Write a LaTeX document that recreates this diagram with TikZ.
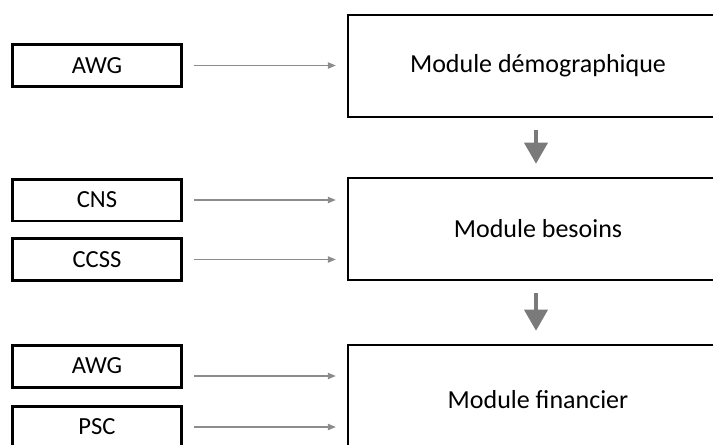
\documentclass[tikz,border=0pt]{standalone}
\usepackage{fontspec}
\setmainfont{Carlito}
\usetikzlibrary{arrows.meta}
\tikzset{
  source/.style={draw, line width=1.7pt, minimum width=3.4cm, minimum height=0.84cm, inner sep=0pt, font=\fontsize{14}{16}\selectfont},
  module/.style={draw, line width=1.4pt, minimum width=7.6cm, minimum height=2.04cm, inner sep=0pt, font=\fontsize{14.8}{17}\selectfont},
  feed/.style={draw=black!45, line width=0.6pt, -{Triangle[length=4.5pt, width=3.6pt]}, shorten <=0.22cm, shorten >=0.22cm},
  flow/.style={draw=black!52, line width=2.4pt, -{Triangle[length=12pt, width=13pt]}, shorten <=0.24cm, shorten >=0.26cm}
}
\begin{document}
\begin{tikzpicture}[x=0.02cm, y=-0.02cm]
\clip (0,0) rectangle (713,444);
% modules
\node[module] (demo) at (538,66) {Module démographique};
\node[module] (besoins) at (538,229) {Module besoins};
\node[module, minimum height=2.2cm] (financier) at (538,400) {Module financier};
% sources
\node[source] (awgA) at (97,65.5) {AWG};
\node[source] (cns) at (97,200) {CNS};
\node[source] (ccss) at (97,259.5) {CCSS};
\node[source] (awgB) at (97,366) {AWG};
\node[source] (psc) at (97,427) {PSC};
% liens
\draw[feed] (awgA.east) -- (demo.west |- awgA.east);
\draw[feed] (cns.east) -- (besoins.west |- cns.east);
\draw[feed] (ccss.east) -- (besoins.west |- ccss.east);
\coordinate (awgBout) at ([yshift=-0.2cm]awgB.east);
\draw[feed] (awgBout) -- (financier.west |- awgBout);
\draw[feed] (psc.east) -- (financier.west |- psc.east);
\draw[flow] (demo.south -| 536,0) -- (besoins.north -| 536,0);
\draw[flow] (besoins.south -| 536,0) -- (financier.north -| 536,0);
\end{tikzpicture}
\end{document}
